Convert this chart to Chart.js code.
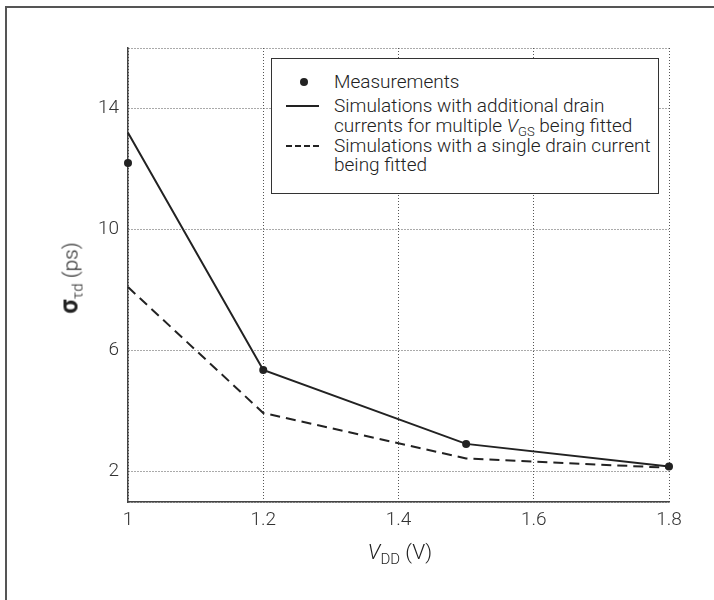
<!DOCTYPE html>
<html>
<head>
<meta charset="utf-8">
<script src="https://cdn.jsdelivr.net/npm/chart.js@4/dist/chart.umd.min.js"></script>
<style>
    html, body { margin: 0; padding: 0; background: #fff; }
    #wrap { position: relative; width: 714px; height: 600px; overflow: hidden; font-family: Roboto, "Liberation Sans", sans-serif; font-weight: 300; color: #222; }
    #frame { position: absolute; left: 5px; top: 6px; width: 760px; height: 700px; border-left: 2px solid #555; border-top: 2px solid #555; }
    canvas { position: absolute; left: 0; top: 0; }
    .lbl { position: absolute; white-space: nowrap; font-size: 21px; line-height: 21px; }
    .lbl sub { font-size: 15px; vertical-align: -5px; }
    sub { font-size: 13px; vertical-align: -4px; line-height: 0; }
    #legend { position: absolute; left: 271px; top: 58px; width: 386px; height: 134px; border: 1.5px solid #333; background: #fff; }
    #legend .row { position: absolute; left: 62px; font-size: 19px; line-height: 19px; white-space: nowrap; }
    #legend .sym { position: absolute; }
</style>
</head>
<body>
<div id="wrap">
    <div id="frame"></div>
    <canvas id="chart" width="714" height="600"></canvas>

    <div id="legend">
        <div class="sym" style="left:28px;top:19px;width:8px;height:8px;border-radius:50%;background:#222;"></div>
        <div class="row" style="top:13px;">Measurements</div>
        <div class="sym" style="left:14px;top:46px;width:33px;border-top:2px solid #222;"></div>
        <div class="row" style="top:37px;">Simulations with additional drain</div>
        <div class="row" style="top:57px;">currents for multiple <i>V</i><sub>GS</sub> being fitted</div>
        <div class="sym" style="left:14px;top:86px;width:33px;border-top:2px dashed #222;"></div>
        <div class="row" style="top:77px;">Simulations with a single drain current</div>
        <div class="row" style="top:96px;">being fitted</div>
    </div>

    <div class="lbl" id="xTitle" style="left:400px;top:542px;transform:translateX(-50%);"><i>V</i><sub>DD</sub> (V)</div>
    <div class="lbl" id="yTitle" style="left:70px;top:278px;transform:translate(-50%,-50%) rotate(-90deg);"><span style="font-weight:700;font-size:25px;">σ</span><sub>τd</sub> (ps)</div>
</div>

<script>
    // ---------- Data ----------
    var vdd = [1, 1.2, 1.5, 1.8];
    var measured = [12.2, 5.36, 2.92, 2.17];
    var simMulti = [13.2, 5.36, 2.92, 2.17];
    var simSingle = [8.1, 3.94, 2.44, 2.13];
    var xTicks = [1, 1.2, 1.4, 1.6, 1.8];
    var yTicks = [2, 6, 10, 14];
    var yMin = 1, yMax = 16;

    function pts(values) {
        return values.map(function (v, i) { return { x: vdd[i], y: v }; });
    }

    var ink = "#222";
    var gridColor = "#555";
    var tickFont = { family: "Roboto", size: 19, weight: 300 };

    new Chart(document.getElementById("chart"), {
        type: "line",
        data: {
            datasets: [
                {
                    label: "Simulations with a single drain current being fitted",
                    data: pts(simSingle),
                    borderColor: ink,
                    borderWidth: 2,
                    borderDash: [10, 6],
                    pointRadius: 0,
                    fill: false,
                    tension: 0
                },
                {
                    label: "Simulations with additional drain currents",
                    data: pts(simMulti),
                    borderColor: ink,
                    borderWidth: 2,
                    pointRadius: 0,
                    fill: false,
                    tension: 0
                },
                {
                    label: "Measurements",
                    data: pts(measured),
                    showLine: false,
                    pointRadius: 4,
                    pointBackgroundColor: ink,
                    pointBorderColor: ink,
                    pointBorderWidth: 0
                }
            ]
        },
        options: {
            responsive: false,
            animation: false,
            clip: false,
            layout: { padding: { left: 0, top: 48, right: 45, bottom: 0 } },
            plugins: { legend: { display: false }, tooltip: { enabled: false } },
            scales: {
                x: {
                    type: "linear",
                    min: 1,
                    max: 1.8,
                    afterBuildTicks: function (s) { s.ticks = xTicks.map(function (v) { return { value: v }; }); },
                    afterFit: function (s) { s.height = 98; },
                    ticks: {
                        color: "#333",
                        padding: 7,
                        font: tickFont,
                        callback: function (v) { return String(v); }
                    },
                    grid: { color: gridColor, lineWidth: 1, drawTicks: false },
                    // border.dash styles the grid lines (dotted); the axis line stays solid
                    border: { display: true, color: "#444", width: 1.5, dash: [1, 2] }
                },
                y: {
                    type: "linear",
                    min: yMin,
                    max: yMax,
                    afterBuildTicks: function (s) {
                        s.ticks = [yMin].concat(yTicks, [yMax]).map(function (v) { return { value: v }; });
                    },
                    afterFit: function (s) { s.width = 128; },
                    ticks: {
                        color: "#333",
                        padding: 9,
                        font: tickFont,
                        callback: function (v) { return yTicks.indexOf(v) >= 0 ? String(v) : ""; }
                    },
                    grid: { color: gridColor, lineWidth: 1, drawTicks: false },
                    border: { display: true, color: "#444", width: 1.5, dash: [1, 2] }
                }
            }
        }
    });
</script>
</body>
</html>
